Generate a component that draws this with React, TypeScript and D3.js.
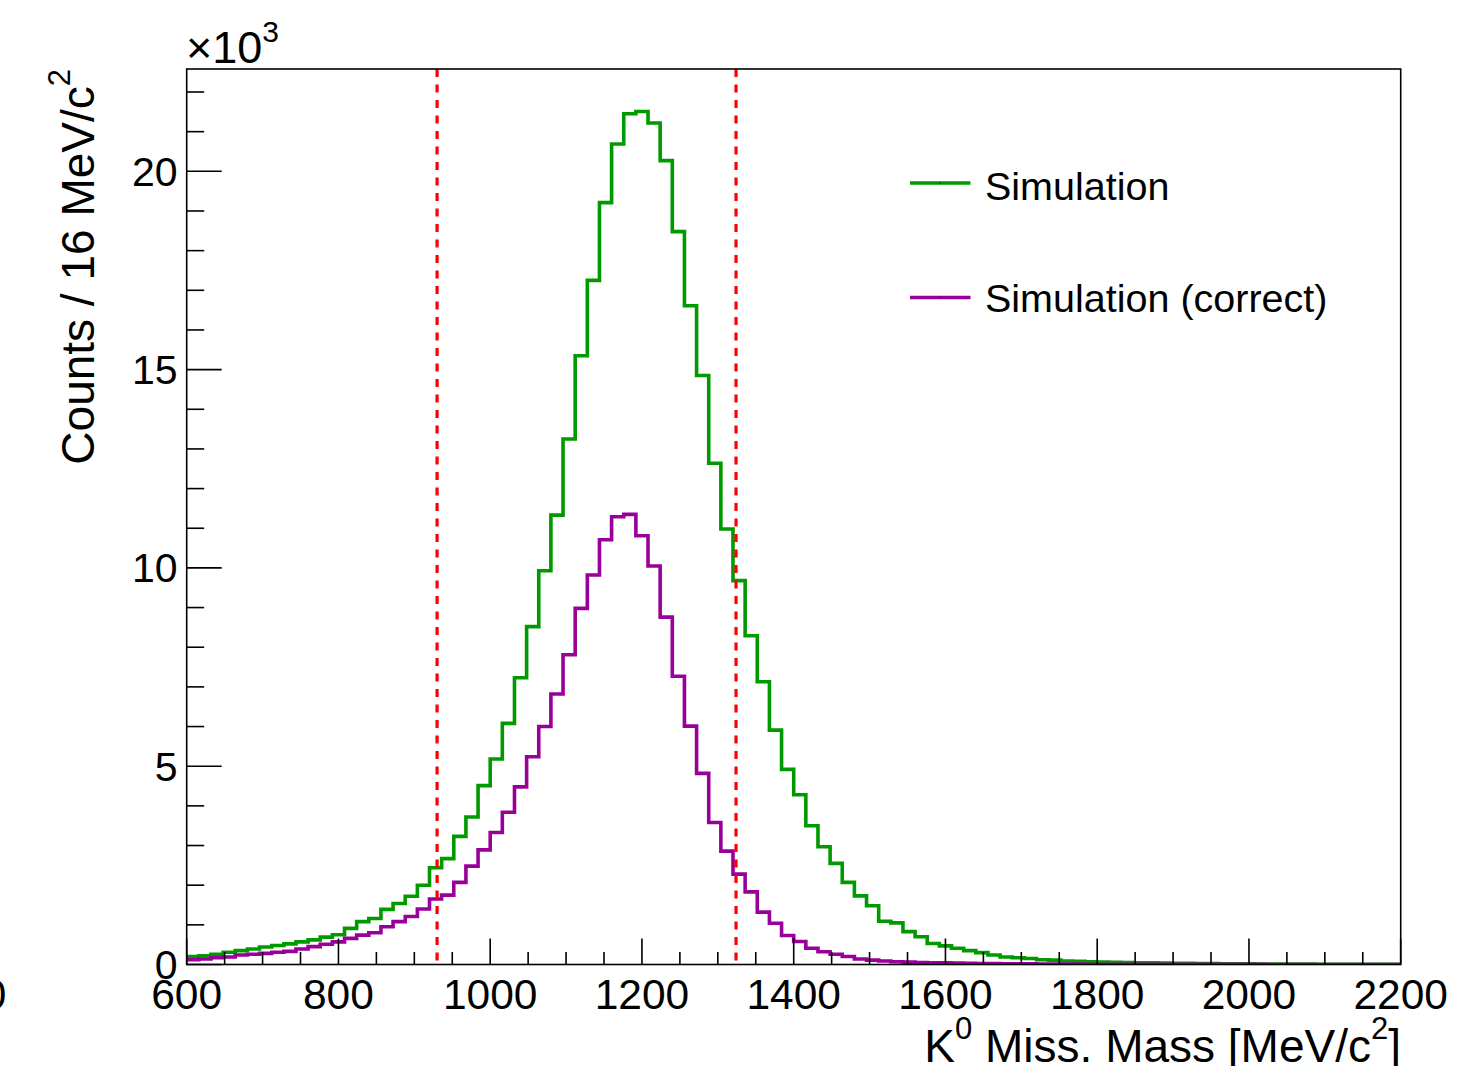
import React, { useRef, useEffect } from "react";
import * as d3 from "d3";

// histogram range and binning (MeV/c^2)
const X_MIN = 600;
const X_MAX = 2200;
const BIN_W = 16;
const Y_MAX = 22.58; // x10^3

// counts per bin, in units of 10^3
const simCounts = [
	0.20, 0.22, 0.26, 0.31, 0.35, 0.39, 0.44, 0.48, 0.52, 0.57,
	0.62, 0.69, 0.75, 0.91, 1.08, 1.16, 1.39, 1.54, 1.72, 2.00,
	2.44, 2.67, 3.23, 3.72, 4.51, 5.18, 6.08, 7.23, 8.52, 9.93,
	11.33, 13.25, 15.35, 17.25, 19.21, 20.69, 21.45, 21.51, 21.22, 20.27,
	18.48, 16.61, 14.85, 12.64, 10.98, 9.68, 8.29, 7.13, 5.91, 4.92,
	4.28, 3.50, 2.97, 2.55, 2.07, 1.73, 1.48, 1.09, 1.05, 0.83,
	0.70, 0.53, 0.47, 0.41, 0.35, 0.30, 0.24, 0.19, 0.17, 0.15,
	0.12, 0.11, 0.09, 0.08, 0.07, 0.06, 0.055, 0.05, 0.045, 0.04,
	0.035, 0.03, 0.028, 0.025, 0.022, 0.02, 0.018, 0.016, 0.014, 0.012,
	0.011, 0.01, 0.009, 0.008, 0.007, 0.006, 0.006, 0.005, 0.005, 0.004,
];

const simCorrectCounts = [
	0.12, 0.14, 0.17, 0.19, 0.24, 0.26, 0.28, 0.31, 0.33, 0.39,
	0.45, 0.51, 0.57, 0.66, 0.74, 0.80, 0.95, 1.08, 1.21, 1.40,
	1.65, 1.75, 2.07, 2.48, 2.89, 3.33, 3.84, 4.48, 5.24, 6.00,
	6.82, 7.81, 8.98, 9.82, 10.71, 11.29, 11.35, 10.81, 10.05, 8.76,
	7.27, 6.01, 4.82, 3.58, 2.86, 2.28, 1.83, 1.32, 1.04, 0.73,
	0.58, 0.41, 0.32, 0.26, 0.20, 0.14, 0.11, 0.09, 0.07, 0.06,
	0.05, 0.045, 0.04, 0.035, 0.03, 0.025, 0.022, 0.02, 0.018, 0.015,
	0.013, 0.012, 0.01, 0.009, 0.008, 0.007, 0.006, 0.006, 0.005, 0.005,
	0.004, 0.004, 0.003, 0.003, 0.003, 0.002, 0.002, 0.002, 0.002, 0.001,
	0.001, 0.001, 0.001, 0.001, 0.001, 0.001, 0, 0, 0, 0,
];

// mass cut window
const cutLines = [930, 1324];

const xMajorTicks = [600, 800, 1000, 1200, 1400, 1600, 1800, 2000, 2200];
const yMajorTicks = [0, 5, 10, 15, 20];

const legendLabels = ["Simulation", "Simulation (correct)"];

const FONT = "'Liberation Sans', Arial, Helvetica, sans-serif";

const App = () => {
	const svgRef = useRef(null);
	const W = 1477;
	const H = 1066;
	const left = 186.7, right = 1400.7, top = 69, bottom = 964.5;

	useEffect(() => {
		const svg = d3.select(svgRef.current);
		svg.selectAll("*").remove();

		const x = d3.scaleLinear().domain([X_MIN, X_MAX]).range([left, right]);
		const y = d3.scaleLinear().domain([0, Y_MAX]).range([bottom, top]);

		svg.append("defs").append("clipPath").attr("id", "frame-clip")
			.append("rect")
			.attr("x", left).attr("y", top)
			.attr("width", right - left).attr("height", bottom - top);

		// histograms
		const line = d3.line().x(d => x(d[0])).y(d => y(d[1]));
		const toSteps = (counts) => {
			const pts = [];
			counts.forEach((v, i) => {
				const lo = X_MIN + i * BIN_W;
				pts.push([lo, v]);
				pts.push([lo + BIN_W, v]);
			});
			return pts;
		};

		const hists = [
			{ data: simCounts, color: "#009900" },
			{ data: simCorrectCounts, color: "#990099" },
		];

		const g = svg.append("g").attr("clip-path", "url(#frame-clip)");
		hists.forEach(h => {
			g.append("path")
				.datum(toSteps(h.data))
				.attr("fill", "none")
				.attr("stroke", h.color)
				.attr("stroke-width", 3.6)
				.attr("stroke-linejoin", "miter")
				.attr("d", line);
		});

		// cut lines
		svg.append("g").selectAll("line")
			.data(cutLines).join("line")
			.attr("x1", d => x(d)).attr("x2", d => x(d))
			.attr("y1", top).attr("y2", bottom)
			.attr("stroke", "#ff0000")
			.attr("stroke-width", 3.2)
			.attr("stroke-dasharray", "8,7.5");

		// frame
		svg.append("rect")
			.attr("x", left).attr("y", top)
			.attr("width", right - left).attr("height", bottom - top)
			.attr("fill", "none")
			.attr("stroke", "black")
			.attr("stroke-width", 1.6);

		// x ticks
		const xMinor = d3.range(X_MIN, X_MAX + 1, 50);
		svg.append("g").selectAll("line")
			.data(xMinor).join("line")
			.attr("x1", d => x(d)).attr("x2", d => x(d))
			.attr("y1", bottom)
			.attr("y2", d => bottom - (d % 200 === 0 ? 26 : 12.5))
			.attr("stroke", "black").attr("stroke-width", 1.6);

		// y ticks
		const yMinor = d3.range(0, Math.floor(Y_MAX) + 1, 1);
		svg.append("g").selectAll("line")
			.data(yMinor).join("line")
			.attr("x1", left)
			.attr("x2", d => left + (d % 5 === 0 ? 35 : 17.5))
			.attr("y1", d => y(d)).attr("y2", d => y(d))
			.attr("stroke", "black").attr("stroke-width", 1.6);

		// x labels
		svg.append("g").selectAll("text")
			.data(xMajorTicks).join("text")
			.attr("x", d => x(d))
			.attr("y", 1008.5)
			.attr("text-anchor", "middle")
			.attr("font-family", FONT)
			.attr("font-size", 42.5)
			.text(d => d);

		// y labels
		svg.append("g").selectAll("text")
			.data(yMajorTicks).join("text")
			.attr("x", 177.5)
			.attr("y", d => y(d) + 14.5)
			.attr("text-anchor", "end")
			.attr("font-family", FONT)
			.attr("font-size", 41)
			.text(d => d);

		// stray label at left edge
		svg.append("text")
			.attr("x", 6.5).attr("y", 1008.5)
			.attr("text-anchor", "end")
			.attr("font-family", FONT).attr("font-size", 42.5)
			.text("0");

		// exponent
		const ex = svg.append("text")
			.attr("x", 186).attr("y", 63)
			.attr("font-family", FONT).attr("font-size", 45);
		ex.append("tspan").text("\u00d710");
		ex.append("tspan").attr("dy", -21).attr("font-size", 30).text("3");

		// x title
		const xt = svg.append("text")
			.attr("x", 1401).attr("y", 1062)
			.attr("text-anchor", "end")
			.attr("font-family", FONT).attr("font-size", 46);
		xt.append("tspan").text("K");
		xt.append("tspan").attr("dy", -23).attr("font-size", 31).text("0");
		xt.append("tspan").attr("dy", 23).text(" Miss. Mass [MeV/c");
		xt.append("tspan").attr("dy", -23).attr("font-size", 31).text("2");
		xt.append("tspan").attr("dy", 23).text("]");

		// y title
		const yt = svg.append("text")
			.attr("transform", "translate(94,69) rotate(-90)")
			.attr("text-anchor", "end")
			.attr("font-family", FONT).attr("font-size", 46);
		yt.append("tspan").text("Counts / 16 MeV/c");
		yt.append("tspan").attr("dy", -24).attr("font-size", 31).text("2");

		// legend
		const leg = svg.append("g");
		legendLabels.forEach((lab, i) => {
			const ly = 183 + i * 114.5;
			leg.append("line")
				.attr("x1", 910).attr("x2", 970.5)
				.attr("y1", ly).attr("y2", ly)
				.attr("stroke", hists[i].color).attr("stroke-width", 3.6);
			leg.append("rect")
				.attr("x", 939.5).attr("y", ly - 0.5)
				.attr("width", 1).attr("height", 1)
				.attr("fill", "black");
			leg.append("text")
				.attr("x", 985).attr("y", 200 + i * 111.5)
				.attr("font-family", FONT).attr("font-size", 39.5)
				.text(lab);
		});
	});

	return (
		<div>
			<svg ref={svgRef} width={W} height={H}
				style={{ position: "absolute", left: 0, top: 0, background: "white" }}>
			</svg>
		</div>
	);
};

export default App;
